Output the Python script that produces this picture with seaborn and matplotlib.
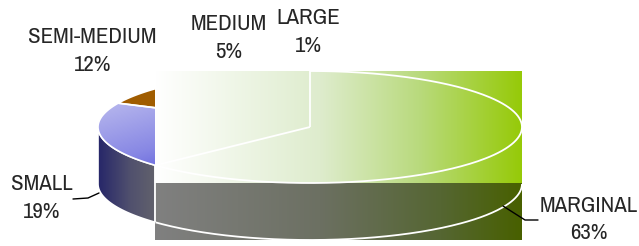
import numpy as np
import matplotlib
matplotlib.use("Agg")
import matplotlib.pyplot as plt
import seaborn as sns
from matplotlib.patches import Polygon
from matplotlib.colors import LinearSegmentedColormap

# ---- data ----
categories = ["MARGINAL", "SMALL", "SEMI-MEDIUM", "MEDIUM", "LARGE"]
shares = [63, 19, 12, 5, 1]
pct_labels = ["63%", "19%", "12%", "5%", "1%"]

sns.set_theme(style="white")
plt.rcParams['font.family'] = ['Archivo Narrow', 'DejaVu Sans']

W, H = 639, 246
fig = plt.figure(figsize=(W / 100, H / 100), dpi=100)
ax = fig.add_axes([0, 0, 1, 1])

cx, cy, rx, ry, depth = 310, 127, 212, 56, 57


def pt(t, dz=0.0):
    r = np.radians(t)
    return np.column_stack([cx + rx * np.cos(r), cy - ry * np.sin(r) + dz])


def arc(t0, t1, dz=0.0, n=200):
    return pt(np.linspace(t0, t1, n), dz)


def to_rgb(c):
    return tuple(v / 255 for v in c)


def grad_fill(poly, stops, extent, mode="h", z=1):
    x0, x1, y0, y1 = extent
    cmap = LinearSegmentedColormap.from_list(
        "g", [(p, to_rgb(c)) for p, c in stops])
    n = 256
    g = np.linspace(0, 1, n)
    if mode == "h":
        arr = np.tile(g, (n, 1))
    elif mode == "v":
        arr = np.tile(g[:, None], (1, n))
    else:  # diagonal top-left -> bottom-right
        arr = (g[:, None] + g[None, :]) / 2
    im = ax.imshow(arr, cmap=cmap, vmin=0, vmax=1, extent=(x0, x1, y1, y0),
                   origin="upper", aspect="auto", zorder=z,
                   interpolation="bilinear")
    patch = Polygon(poly, closed=True, transform=ax.transData,
                    facecolor="none", edgecolor="none")
    ax.add_patch(patch)
    im.set_clip_path(patch)


fr = np.array(shares, dtype=float) / sum(shares)
starts = 90 - 360 * np.concatenate([[0], np.cumsum(fr)[:-1]])
ends = starts - 360 * fr

top_solid = {"SEMI-MEDIUM": "#a05c00", "MEDIUM": "#c9d9a0", "LARGE": "#d9e6c0",
             "SMALL": "#7070dd", "MARGINAL": "#99cc00"}

# ---- sides (front-facing only) ----
for cat, s, e in zip(categories, starts, ends):
    lo, hi = max(min(s, e), -180), min(max(s, e), 0)
    if lo >= hi:
        continue
    poly = np.vstack([arc(hi, lo), arc(lo, hi, depth)])
    if cat == "SMALL":
        grad_fill(poly, [(0, (38, 38, 105)), (0.55, (80, 80, 110)), (1, (98, 98, 108))],
                  (poly[:, 0].min(), poly[:, 0].max(), poly[:, 1].min(), poly[:, 1].max()),
                  mode="h", z=1)
        ax.add_patch(Polygon(poly, closed=True, facecolor="none",
                             edgecolor="white", lw=1.2, zorder=2))

# ---- tops ----
for cat, s, e in zip(categories, starts, ends):
    poly = np.vstack([[[cx, cy]], arc(s, e)])
    if cat == "SMALL":
        grad_fill(poly, [(0, (185, 185, 238)), (0.5, (135, 135, 228)), (1, (60, 60, 212))],
                  (poly[:, 0].min(), poly[:, 0].max(), poly[:, 1].min(), poly[:, 1].max()),
                  mode="d", z=3)
        ax.add_patch(Polygon(poly, closed=True, facecolor="none",
                             edgecolor="white", lw=1.2, zorder=4))
    else:
        ax.add_patch(Polygon(poly, closed=True, facecolor=top_solid[cat],
                             edgecolor="white", lw=1.2, zorder=3))

# ---- MARGINAL slice rendered as gradient bounding box ----
i = categories.index("MARGINAL")
s, e = starts[i], ends[i]
top_pts = np.vstack([[[cx, cy]], arc(s, e)])
bx0, bx1 = top_pts[:, 0].min(), cx + rx
by0, ysplit, by1 = cy - ry, cy + ry, cy + ry + depth
upper = [[bx0, by0], [bx1, by0], [bx1, ysplit], [bx0, ysplit]]
lower = [[bx0, ysplit], [bx1, ysplit], [bx1, by1], [bx0, by1]]
grad_fill(upper, [(0, (255, 255, 255)), (0.45, (222, 236, 205)),
                  (0.72, (185, 218, 125)), (1, (150, 202, 8))],
          (bx0, bx1, by0, ysplit), mode="h", z=5)
grad_fill(lower, [(0, (128, 128, 128)), (0.45, (108, 112, 98)),
                  (0.78, (85, 102, 50)), (1, (72, 96, 0))],
          (bx0, bx1, ysplit, by1), mode="h", z=5)

# white outlines of the marginal slice
wl = dict(color="white", lw=1.3, zorder=6, solid_capstyle="butt")
ta = arc(s, e)
ax.plot(ta[:, 0], ta[:, 1], **wl)
ax.plot([cx, ta[0, 0]], [cy, ta[0, 1]], **wl)
ax.plot([cx, ta[-1, 0]], [cy, ta[-1, 1]], **wl)
ba = arc(0, e, depth)
ax.plot(ba[:, 0], ba[:, 1], **wl)
le = pt(e)[0]
ax.plot([le[0], le[0]], [le[1], le[1] + depth], **wl)

# ---- labels ----
tc = "#262626"
lab_pos = {"SEMI-MEDIUM": (92.5, 37, 65), "MEDIUM": (229, 23.5, 51.5),
           "LARGE": (308, 17.5, 46.5), "SMALL": (42, 184.5, 211.5),
           "MARGINAL": (588.5, 205.5, 233)}
for cat, pl in zip(categories, pct_labels):
    x, y1, y2 = lab_pos[cat]
    ax.text(x, y1, cat, ha="center", va="center", fontsize=16.5, color=tc)
    ax.text(x, y2, pl, ha="center", va="center", fontsize=16.5, color=tc)

# leader lines
ax.plot([73, 88, 99], [199, 198, 193], color="black", lw=1, zorder=7)
ax.plot([503, 525, 538], [206, 220, 220], color="black", lw=1, zorder=7)

ax.set_xlim(0, W)
ax.set_ylim(H, 0)
ax.axis("off")
fig.savefig("out.png", dpi=100)
